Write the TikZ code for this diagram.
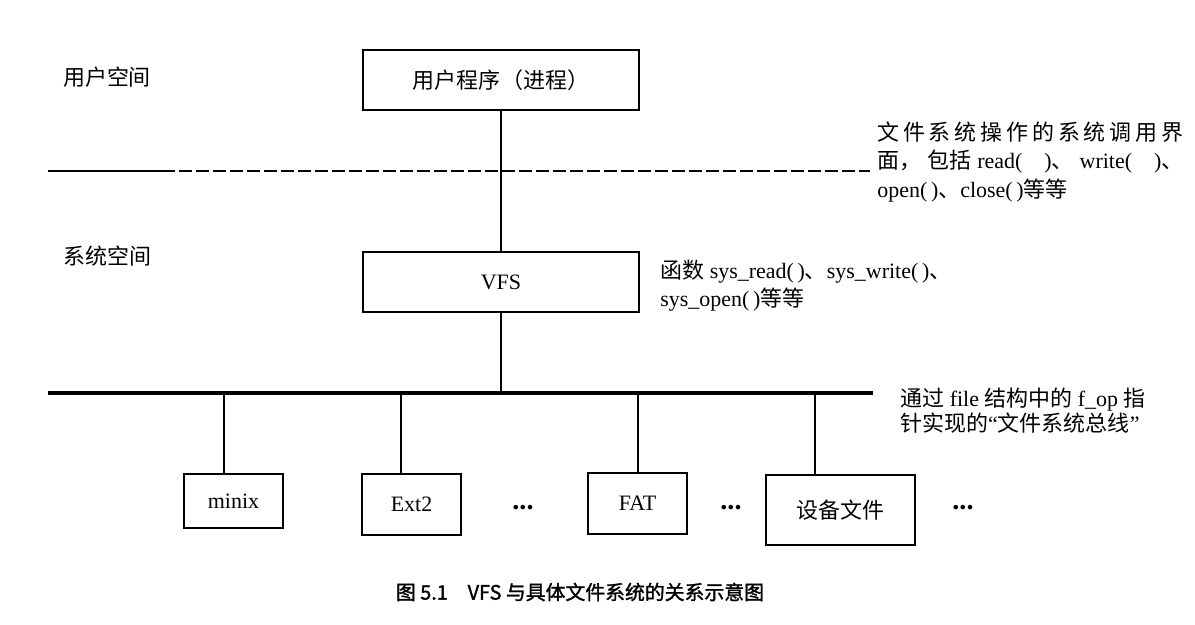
\documentclass[tikz,border=0pt]{standalone}
\usepackage{fontspec}
\setmainfont{Liberation Serif}
\newfontfamily\cjk{Noto Sans CJK SC}
\newfontfamily\capfont{Noto Sans CJK SC}[FakeBold=1.5]
\usepackage{tikz}
\usetikzlibrary{calc,positioning}
\newcommand{\zh}[1]{{\cjk #1}}
\tikzstyle{layerbox}  = [draw, line width=0.85pt, minimum width=5.52cm, minimum height=1.2cm, inner sep=0pt]
\tikzstyle{fsbox}     = [draw, line width=0.85pt, minimum width=1.98cm, minimum height=1.22cm, inner sep=0pt]
\tikzstyle{link}      = [line width=0.85pt]
\tikzstyle{bus}       = [line width=2.5pt]
\tikzstyle{note}      = [anchor=west, align=left, inner sep=0pt]

\begin{document}
\begin{tikzpicture}[font=\fontsize{12.5}{16.4}\selectfont]
        \useasboundingbox (0,0) rectangle (23.9,12.5);

        % user space / kernel space
        \node (userspace) at (2.14,10.96) {\zh{用户空间}};
        \node (sysspace) at (2.15,7.38) {\zh{系统空间}};

        \node[layerbox] (user) at (10.02,10.9) {\zh{用户程序\kern1pt（进程）}};
        \node[layerbox] (vfs) at (10.02,6.86) {VFS};

        \coordinate (sepL) at (0.96,9.08);
        \coordinate (sepM) at (3.24,9.08);
        \coordinate (sepR) at (17.4,9.08);
        \draw[link] (sepL) -- (sepM);
        \draw[link, dash pattern=on 0.26cm off 0.08cm] (sepM) -- (sepR);

        \node[note] (callnote) at (17.54,9.26) {\makebox[6.12cm]{\zh{文\hfill 件\hfill 系\hfill 统\hfill 操\hfill 作\hfill 的\hfill 系\hfill 统\hfill 调\hfill 用\hfill 界}}\\
            \makebox[6.12cm]{\zh{面，}\hfill\zh{包括}\hfill read(\quad)\zh{、}\hfill write(\quad)\zh{、}}\\
            open(\,)\zh{、}close(\,)\zh{等等}};
        \node[note, font=\fontsize{12.5}{15.9}\selectfont] (vfsnote) at (13.2,6.78) {\zh{函数} sys\_read(\,)\zh{、}sys\_write(\,)\zh{、}\\
            sys\_open(\,)\zh{等等}};

        % file system bus
        \coordinate (busL) at (0.96,4.64);
        \coordinate (busR) at (17.46,4.64);
        \draw[bus] (busL) -- (busR);
        \node[note, font=\fontsize{12.5}{14.2}\selectfont] (busnote) at (18.0,4.29) {\zh{通过} file \zh{结构中的} f\_op \zh{指}\\
            \zh{针实现的}“\zh{文件系统总线}”};

        \draw[link] (user.south) -- (vfs.north);
        \draw[link] (vfs.south) -- (vfs.south |- busL);

        % concrete file systems
        \node[fsbox, minimum height=1.08cm] (minix) at (4.67,2.48) {minix};
        \node[fsbox] (ext) at (8.23,2.41) {Ext2};
        \node[fsbox] (fat) at (12.75,2.43) {FAT};
        \node[fsbox, minimum width=2.98cm, minimum height=1.4cm] (dev) at (16.81,2.30) {\zh{设备文件}};

        \node (dotsA) at (10.46,2.34) {\fontsize{16}{16}\selectfont\textbf{...}};
        \node (dotsB) at (14.62,2.34) {\fontsize{16}{16}\selectfont\textbf{...}};
        \node (dotsC) at (19.26,2.34) {\fontsize{16}{16}\selectfont\textbf{...}};

        \coordinate (tapA) at (4.48,4.64);
        \coordinate (tapB) at (8.02,4.64);
        \coordinate (tapC) at (12.76,4.64);
        \coordinate (tapD) at (16.30,4.64);
        \draw[link] (tapA) -- (tapA |- minix.north);
        \draw[link] (tapB) -- (tapB |- ext.north);
        \draw[link] (tapC) -- (tapC |- fat.north);
        \draw[link] (tapD) -- (tapD |- dev.north);

        \node[font=\capfont\fontsize{11.3}{13}\selectfont] (caption) at (11.6,0.66) {图 5.1\quad VFS 与具体文件系统的关系示意图};
    \end{tikzpicture}
\end{document}
